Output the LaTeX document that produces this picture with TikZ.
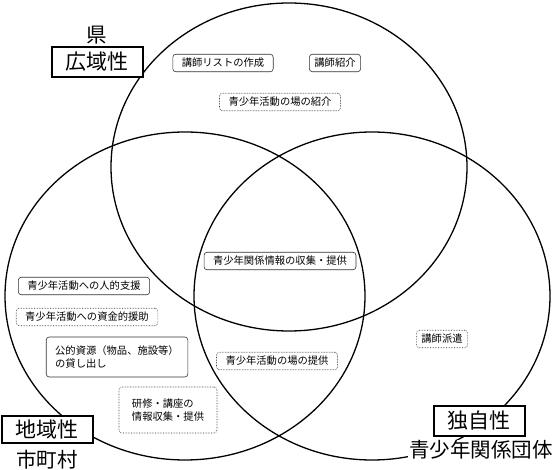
\documentclass[tikz,border=0pt]{standalone}
\usepackage{fontspec}
\setmainfont{Noto Sans CJK JP}
\begin{document}
\begin{tikzpicture}[x=1pt,y=-1pt,
  item/.style={draw=black!80,fill=white,rounded corners=3pt,line width=0.6pt,
    inner xsep=9pt,inner ysep=4pt,font=\fontsize{10.3}{13}\selectfont},
  itemdot/.style={item,densely dotted},
  area/.style={draw,fill=white,line width=2pt,minimum width=91pt,minimum height=30pt,
    inner sep=2pt,font=\fontsize{21}{24}\selectfont},
  owner/.style={fill=white,inner sep=1pt,font=\fontsize{20.5}{24}\selectfont}]
  \useasboundingbox (0,0) rectangle (555,470);
  % three regions
  \draw[line width=1.3pt] (289,167) ellipse [x radius=178, y radius=164];
  \draw[line width=1.3pt] (185,296) ellipse [x radius=180, y radius=164];
  \draw[line width=1.3pt] (372,296) ellipse [x radius=178, y radius=164];
  % labels of the regions
  \node[area] (ken) at (97,62) {広域性};
  \node[owner] (kenname) at (97,35) {県};
  \node[area,minimum height=27pt] (shi) at (47,430) {地域性};
  \node[owner] (shiname) at (47,460) {市町村};
  \node[area] (dan) at (479,421) {独自性};
  \node[owner] (danname) at (481,450) {青少年関係団体};
  % items
  \node[item] (list) at (223,63) {講師リストの作成};
  \node[item,inner xsep=5pt] (shokai) at (335,63) {講師紹介};
  \node[itemdot] (bashokai) at (280,102) {青少年活動の場の紹介};
  \node[item] (joho) at (280,261) {青少年関係情報の収集・提供};
  \node[itemdot] (bateikyo) at (277,361) {青少年活動の場の提供};
  \node[item] (jinteki) at (84,286) {青少年活動への人的支援};
  \node[itemdot] (shikin) at (87,317) {青少年活動への資金的援助};
  \node[item,align=left,minimum width=140pt,minimum height=40pt] (shigen) at (117,357)
    {公的資源（物品、施設等）\\の貸し出し};
  \node[itemdot,align=left,minimum width=98pt,minimum height=46pt] (kenshu) at (168,410)
    {研修・講座の\\情報収集・提供};
  \node[itemdot,inner xsep=5pt] (haken) at (442,339) {講師派遣};
\end{tikzpicture}
\end{document}
